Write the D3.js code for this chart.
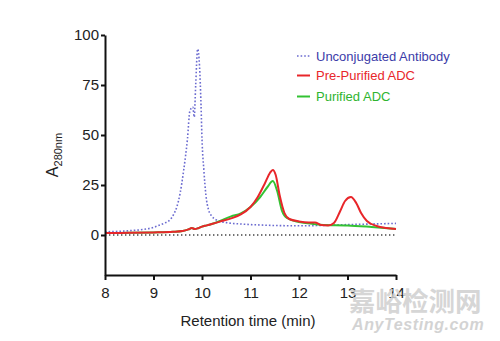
<!DOCTYPE html>
<html>
<head>
<meta charset="utf-8">
<script src="https://cdn.jsdelivr.net/npm/d3@7"></script>
<style>
  body { margin: 0; background: #fff; }
  svg { font-family: "Liberation Sans", Arial, sans-serif; }
</style>
</head>
<body>
<svg id="chart"></svg>
<script>
// retention time (min) / absorbance values
const unconjX = [8, 8.4, 8.72, 9.0, 9.13, 9.25, 9.34, 9.42, 9.48, 9.55, 9.62, 9.7, 9.75, 9.81, 9.84, 9.87, 9.91, 9.95, 9.98, 10.0, 10.04, 10.08, 10.13, 10.2, 10.3, 10.5, 10.8, 11.2, 12, 12.5, 13, 13.5, 14];
const unconjY = [1.6, 2.0, 2.6, 3.8, 5, 6.2, 7.6, 10.5, 14, 21, 32, 48, 62, 64, 59, 75, 93, 84, 65, 48, 32, 20, 13, 9.5, 7.5, 6.2, 5.5, 5, 4.6, 4.8, 5.2, 5.5, 5.8];

const preX = [8, 8.5, 9, 9.4, 9.6, 9.72, 9.79, 9.85, 9.92, 10.0, 10.1, 10.2, 10.37, 10.6, 10.8, 11.0, 11.15, 11.3, 11.4, 11.46, 11.52, 11.6, 11.7, 11.8, 12.0, 12.2, 12.33, 12.45, 12.6, 12.72, 12.85, 12.95, 13.07, 13.18, 13.28, 13.4, 13.6, 13.8, 14];
const preY = [1, 1.1, 1.3, 1.6, 2.0, 2.8, 3.5, 3.0, 3.4, 4.2, 4.8, 5.5, 6.7, 8.3, 10.3, 14, 19, 26, 31, 32.5, 30, 20, 11, 8, 6.8, 6.3, 6.3, 5, 4.8, 6, 12, 17, 19, 16, 11, 7, 4.5, 3.5, 3];

const purX = [8, 8.5, 9, 9.4, 9.6, 9.72, 9.79, 9.85, 9.92, 10.0, 10.1, 10.2, 10.37, 10.6, 10.8, 11.0, 11.2, 11.35, 11.46, 11.55, 11.65, 11.75, 12.0, 12.3, 12.5, 13.0, 13.5, 14];
const purY = [1, 1.1, 1.3, 1.6, 2.0, 2.8, 3.5, 3.0, 3.4, 4.2, 4.8, 5.5, 7, 9.3, 10.8, 14, 19, 24, 27, 22, 12, 8.5, 6.5, 5.5, 5, 4.8, 4, 3];

const baseX = [8, 14];
const baseY = [0, 0];

const xTicks = [8, 9, 10, 11, 12, 13, 14];
const yTicks = [0, 25, 50, 75, 100];

const seriesNames = ["Unconjugated Antibody", "Pre-Purified ADC", "Purified ADC"];

const W = 500, H = 341;
const margin = {top: 35, right: 104, bottom: 66, left: 105};
const width = W - margin.left - margin.right;
const height = H - margin.top - margin.bottom;

const svg = d3.select("#chart").attr("width", W).attr("height", H);
const chart = svg.append("g").attr("transform", `translate(${margin.left},${margin.top})`);

const xScale = d3.scaleLinear().domain([8, 14]).range([0, width]);
const yScale = d3.scaleLinear().domain([-20, 100]).range([height, 0]);

const toPts = (xs, ys) => xs.map((x, i) => [x, ys[i]]);
const line = d3.line()
  .x(d => xScale(d[0]))
  .y(d => yScale(d[1]))
  .curve(d3.curveMonotoneX);

// baseline (dotted, dark)
chart.append("path")
  .datum(toPts(baseX, baseY))
  .attr("d", line)
  .attr("fill", "none")
  .attr("stroke", "#444")
  .attr("stroke-width", 1.4)
  .attr("stroke-dasharray", "1.4,2.6");

// unconjugated antibody (dotted blue)
chart.append("path")
  .datum(toPts(unconjX, unconjY))
  .attr("d", line)
  .attr("fill", "none")
  .attr("stroke", "#6b6bd0")
  .attr("stroke-width", 1.6)
  .attr("stroke-dasharray", "1.6,2");

// purified ADC (green)
chart.append("path")
  .datum(toPts(purX, purY))
  .attr("d", line)
  .attr("fill", "none")
  .attr("stroke", "#33c233")
  .attr("stroke-width", 2);

// pre-purified ADC (red)
chart.append("path")
  .datum(toPts(preX, preY))
  .attr("d", line)
  .attr("fill", "none")
  .attr("stroke", "#e8262a")
  .attr("stroke-width", 2);

// axes
const xAxis = d3.axisBottom(xScale).tickValues(xTicks).tickFormat(d3.format("d"))
  .tickSize(5).tickSizeOuter(0).tickPadding(7);
const yAxis = d3.axisLeft(yScale).tickValues(yTicks)
  .tickSize(4).tickSizeOuter(0).tickPadding(2);

const xAxisG = chart.append("g").attr("transform", `translate(0,${height})`).call(xAxis);
const yAxisG = chart.append("g").call(yAxis);

[xAxisG, yAxisG].forEach(g => {
  g.select(".domain").attr("stroke", "#111").attr("stroke-width", 2);
  g.selectAll(".tick line").attr("stroke", "#111").attr("stroke-width", 2);
  g.selectAll(".tick text").attr("fill", "#222").style("font-size", "15px");
});

// axis titles
svg.append("text")
  .attr("x", 248).attr("y", 326)
  .attr("text-anchor", "middle")
  .attr("fill", "#222")
  .style("font-size", "15px")
  .text("Retention time (min)");

const yTitle = svg.append("text")
  .attr("transform", "translate(58,155) rotate(-90)")
  .attr("text-anchor", "middle")
  .attr("fill", "#222")
  .style("font-size", "16px");
yTitle.append("tspan").text("A");
yTitle.append("tspan").attr("dy", 4).style("font-size", "11px").text("280nm");

// legend
const legend = svg.append("g").attr("transform", "translate(297,56)");
const legendStyles = [
  {color: "#6b6bd0", text: "#3c3ca8", dash: "1.6,2", w: 1.6},
  {color: "#e8262a", text: "#e8262a", dash: null, w: 2},
  {color: "#33c233", text: "#2fb42f", dash: null, w: 2}
];
seriesNames.forEach((name, i) => {
  const row = legend.append("g").attr("transform", `translate(0,${[0, 19.5, 40.5][i]})`);
  row.append("line")
    .attr("x1", 0).attr("x2", 13)
    .attr("stroke", legendStyles[i].color)
    .attr("stroke-width", legendStyles[i].w)
    .attr("stroke-dasharray", legendStyles[i].dash);
  row.append("text")
    .attr("x", 19).attr("dy", "0.35em")
    .attr("fill", legendStyles[i].text)
    .style("font-size", "13px")
    .text(name);
});

// watermark
svg.append("text")
  .attr("x", 349).attr("y", 311)
  .attr("fill", "#cfcfcf")
  .attr("opacity", 0.85)
  .style("font-family", "'Noto Sans CJK SC', sans-serif")
  .style("font-weight", "bold")
  .style("font-size", "26.5px")
  .text("嘉峪检测网");
svg.append("text")
  .attr("x", 352).attr("y", 330)
  .attr("fill", "#cfcfcf")
  .attr("opacity", 0.9)
  .style("font-style", "italic")
  .style("font-weight", "bold")
  .style("font-size", "16px")
  .style("letter-spacing", "0.6px")
  .text("AnyTesting.com");
</script>
</body>
</html>
